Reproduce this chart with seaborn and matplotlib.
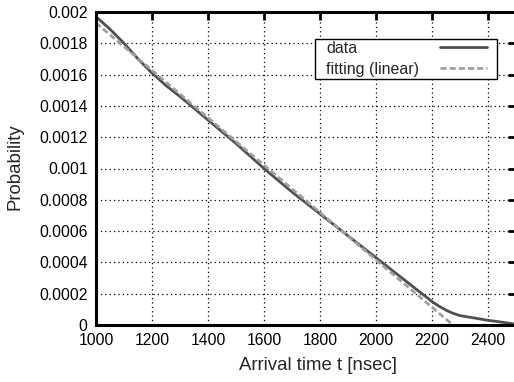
import matplotlib
matplotlib.use("Agg")
import matplotlib.pyplot as plt
import seaborn as sns
import pandas as pd
from matplotlib.ticker import FuncFormatter
from matplotlib.offsetbox import DrawingArea

# Measured arrival-time distribution
arrival_t = [1000, 1050, 1100, 1150, 1200, 1250, 1300, 1400, 1500, 1600, 1700,
             1800, 1900, 2000, 2100, 2150, 2200, 2225, 2250, 2275, 2300, 2350,
             2400, 2450, 2500]
probability = [0.00197, 0.00189, 0.00180, 0.00170, 0.00161, 0.00153, 0.00146,
               0.00131, 0.00116, 0.00100, 0.00085, 0.00071, 0.00057, 0.00043,
               0.00029, 0.00022, 0.00015, 0.00012, 0.000095, 0.000075, 0.00006,
               0.000045, 0.00003, 0.000018, 0.000005]

# Linear fit endpoints
fit_t = [1000, 2275]
fit_p = [0.00193, 0.0]

x_ticks = [1000, 1200, 1400, 1600, 1800, 2000, 2200, 2400]
y_ticks = [0, 0.0002, 0.0004, 0.0006, 0.0008, 0.001, 0.0012, 0.0014, 0.0016, 0.0018, 0.002]

sns.set_style("white")
plt.rcParams['font.family'] = ['Liberation Sans', 'DejaVu Sans']

df_data = pd.DataFrame({"t": arrival_t, "p": probability})
df_fit = pd.DataFrame({"t": fit_t, "p": fit_p})

DPI = 100
PT = 72.0 / DPI  # points per pixel
fig = plt.figure(figsize=(5.14, 3.82), dpi=DPI)
W, H = 514, 382
ax = fig.add_axes([96 / W, (H - 325) / H, (516 - 96) / W, (325 - 12) / H])

sns.lineplot(data=df_data, x="t", y="p", ax=ax, color="#505050", linewidth=2.0,
             label="data")
sns.lineplot(data=df_fit, x="t", y="p", ax=ax, color="#a0a0a0", linewidth=2.0,
             linestyle=(0, (2.2, 1.1)), label="fitting (linear)")

ax.set_xlim(1000, 2500)
ax.set_ylim(0, 0.002)
ax.set_xticks(x_ticks)
ax.set_yticks(y_ticks)
ax.yaxis.set_major_formatter(FuncFormatter(lambda v, _: f"{v:g}"))

ax.grid(True, color="black", linestyle=(0, (1, 2.5)), linewidth=0.9)
ax.set_axisbelow(True)
for s in ax.spines.values():
    s.set_color("black")
    s.set_linewidth(2.2)

ax.tick_params(direction="in", length=6, width=2, top=True, right=True,
               labelsize=11.3, pad=6, colors="black")
ax.set_xlabel("Arrival time t [nsec]", fontsize=13.4)
ax.set_ylabel("Probability", fontsize=13.4)
ax.xaxis.set_label_coords((318 - 96) / (516 - 96), -(365 - 325) / (325 - 12))
ax.xaxis.label.set_va("center")
ax.yaxis.set_label_coords(-(96 - 15) / (516 - 96), (325 - 167) / (325 - 12))
ax.yaxis.label.set_va("center")

FS = 11.5
leg = ax.legend(loc="upper right",
                bbox_to_anchor=((497 - 96) / (516 - 96), 1 - (39 - 12) / (325 - 12)),
                frameon=True, fancybox=False, markerfirst=False, fontsize=FS,
                handlelength=47 * PT / FS, borderpad=0.1, labelspacing=0.4,
                handletextpad=0.0, borderaxespad=0)
leg.get_frame().set_edgecolor("black")
leg.get_frame().set_linewidth(1.0)
leg.get_frame().set_alpha(1)

# Rebuild each legend row as [left pad, label, gap, line sample, right pad]
# so labels are left-aligned and line samples right-aligned.
fig.canvas.draw()
texts = leg.get_texts()
widths = [t.get_window_extent().width for t in texts]
maxw = max(widths)
pad_px = 0.1 * FS / PT
for col in leg._legend_handle_box.get_children():
    for row in col.get_children():
        txt_box, handle_box = row.get_children()
        w = txt_box.get_children()[0].get_window_extent().width
        row._children = [DrawingArea((11 - pad_px) * PT, 0),
                         txt_box,
                         DrawingArea((21 + maxw - w) * PT, 0),
                         handle_box,
                         DrawingArea((10 - pad_px) * PT, 0)]
        row.sep = 0

fig.savefig("out.png", dpi=DPI)
